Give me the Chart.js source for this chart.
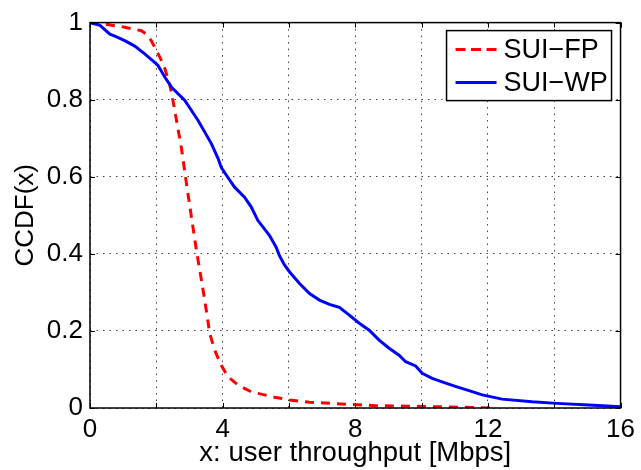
<!DOCTYPE html>
<html>
<head>
<meta charset="utf-8">
<script src="https://cdn.jsdelivr.net/npm/chart.js@4/dist/chart.umd.min.js"></script>
<style>
html,body{margin:0;padding:0;background:#fff;}
canvas{display:block;}
</style>
</head>
<body>
<canvas id="c" width="641" height="470"></canvas>
<script>
// ---- data ----
const seriesLabels = ['SUI\u2212FP', 'SUI\u2212WP'];
const xFP = [0, 0.45, 1.05, 1.55, 1.70, 1.85, 1.95, 2.11, 2.26, 2.41, 2.51, 2.61, 2.76, 2.86, 2.96, 3.06, 3.21, 3.36, 3.46, 3.61, 3.76, 3.96, 4.16, 4.46, 4.86, 5.26, 5.56, 6.02, 6.62, 7.72, 8.62, 10.02, 11.13, 12.23];
const yFP = [1, 0.996, 0.988, 0.979, 0.970, 0.953, 0.936, 0.910, 0.880, 0.837, 0.794, 0.746, 0.673, 0.612, 0.552, 0.495, 0.409, 0.332, 0.280, 0.194, 0.150, 0.111, 0.081, 0.060, 0.042, 0.034, 0.028, 0.021, 0.015, 0.010, 0.006, 0.004, 0.002, 0.0];
const xWP = [0, 0.3, 0.6, 0.75, 1.05, 1.35, 1.65, 1.95, 2.05, 2.26, 2.46, 2.86, 3.06, 3.26, 3.66, 3.86, 3.96, 4.16, 4.36, 4.66, 4.86, 5.06, 5.41, 5.61, 5.71, 5.86, 6.02, 6.32, 6.62, 6.92, 7.22, 7.52, 7.82, 8.12, 8.42, 8.72, 9.02, 9.32, 9.52, 9.82, 10.02, 10.32, 10.62, 11.02, 11.43, 11.83, 12.43, 13.33, 14.08, 15.04, 16];
const yWP = [1, 0.993, 0.970, 0.965, 0.953, 0.939, 0.919, 0.897, 0.889, 0.858, 0.832, 0.798, 0.772, 0.746, 0.686, 0.648, 0.624, 0.598, 0.573, 0.547, 0.522, 0.487, 0.448, 0.418, 0.396, 0.372, 0.353, 0.323, 0.297, 0.280, 0.269, 0.261, 0.241, 0.220, 0.202, 0.176, 0.155, 0.137, 0.120, 0.109, 0.090, 0.077, 0.068, 0.056, 0.045, 0.034, 0.023, 0.016, 0.012, 0.008, 0.003];
const xTickLabels = ['0', '4', '8', '12', '16'];
const yTickLabels = ['0', '0.2', '0.4', '0.6', '0.8', '1'];
const xTitle = 'x: user throughput [Mbps]';
const yTitle = 'CCDF(x)';

const FONT = 'Liberation Sans, Arial, Helvetica, sans-serif';
const zip = (xs, ys) => xs.map((v, i) => ({x: v, y: ys[i]}));

const framePlugin = {
  id: 'frame',
  afterDraw(chart) {
    const {ctx, chartArea: a, scales: {x, y}} = chart;
    ctx.save();
    ctx.strokeStyle = '#000';
    ctx.lineWidth = 1;
    const tl = 5;
    ctx.beginPath();
    x.ticks.forEach(t => {
      const p = Math.round(x.getPixelForValue(t.value)) + 0.5;
      ctx.moveTo(p, a.bottom); ctx.lineTo(p, a.bottom - tl);
      ctx.moveTo(p, a.top); ctx.lineTo(p, a.top + tl);
    });
    y.ticks.forEach(t => {
      const p = Math.round(y.getPixelForValue(t.value)) + 0.5;
      ctx.moveTo(a.left, p); ctx.lineTo(a.left + tl, p);
      ctx.moveTo(a.right, p); ctx.lineTo(a.right - tl, p);
    });
    ctx.stroke();
    ctx.lineWidth = 1.5;
    ctx.strokeRect(a.left, a.top, a.right - a.left, a.bottom - a.top);

    // legend box
    const w = 165, h = 70;
    const lx = a.right - 9 - w, ly = a.top + 8;
    ctx.fillStyle = '#fff';
    ctx.fillRect(lx, ly, w, h);
    ctx.lineWidth = 1.5;
    ctx.strokeStyle = '#000';
    ctx.strokeRect(lx, ly, w, h);
    chart.data.datasets.forEach((ds, i) => {
      const cy = ly + 19 + i * 33;
      ctx.beginPath();
      ctx.strokeStyle = ds.borderColor;
      ctx.lineWidth = ds.borderWidth;
      ctx.setLineDash(ds.borderDash && ds.borderDash.length ? [10, 5.5] : []);
      ctx.moveTo(lx + 9, cy); ctx.lineTo(lx + 50, cy);
      ctx.stroke();
      ctx.setLineDash([]);
      ctx.fillStyle = '#000';
      ctx.font = '27px ' + FONT;
      ctx.textBaseline = 'middle';
      ctx.textAlign = 'left';
      ctx.fillText(ds.label, lx + 57, cy + 1);
    });
    ctx.restore();
  }
};

new Chart(document.getElementById('c'), {
  type: 'line',
  data: {
    datasets: [
      {label: seriesLabels[0], data: zip(xFP, yFP), borderColor: '#ff0000', borderWidth: 3, borderDash: [9, 7], pointRadius: 0, tension: 0, fill: false, order: 2},
      {label: seriesLabels[1], data: zip(xWP, yWP), borderColor: '#0000ff', borderWidth: 3, pointRadius: 0, tension: 0, fill: false, order: 1}
    ]
  },
  options: {
    responsive: false,
    animation: false,
    devicePixelRatio: 1,
    layout: {padding: {top: 22, right: 19, bottom: 0, left: 0}},
    plugins: {legend: {display: false}, tooltip: {enabled: false}},
    scales: {
      x: {
        type: 'linear', min: 0, max: 16,
        afterFit: s => { s.height = 62; },
        ticks: {
          stepSize: 2, autoSkip: false, maxRotation: 0, padding: 6,
          color: '#000', font: {family: FONT, size: 26},
          callback: v => (v % 4 === 0 ? xTickLabels[v / 4] : '')
        },
        grid: {color: 'rgba(0,0,0,0.75)', lineWidth: 1, drawTicks: false},
        border: {display: false, dash: [1.5, 5]},
        title: {display: true, text: xTitle, color: '#000', font: {family: FONT, size: 27.5}, padding: {top: 0, bottom: 0}}
      },
      y: {
        type: 'linear', min: 0, max: 1,
        afterFit: s => { s.width = 90; },
        ticks: {
          stepSize: 0.2, padding: 7,
          color: '#000', font: {family: FONT, size: 26},
          callback: v => yTickLabels[Math.round(v * 5)]
        },
        grid: {color: 'rgba(0,0,0,0.75)', lineWidth: 1, drawTicks: false},
        border: {display: false, dash: [1.5, 5]},
        title: {display: true, text: yTitle, color: '#000', font: {family: FONT, size: 26}, padding: {top: 10, bottom: 0}}
      }
    }
  },
  plugins: [framePlugin]
});
</script>
</body>
</html>
